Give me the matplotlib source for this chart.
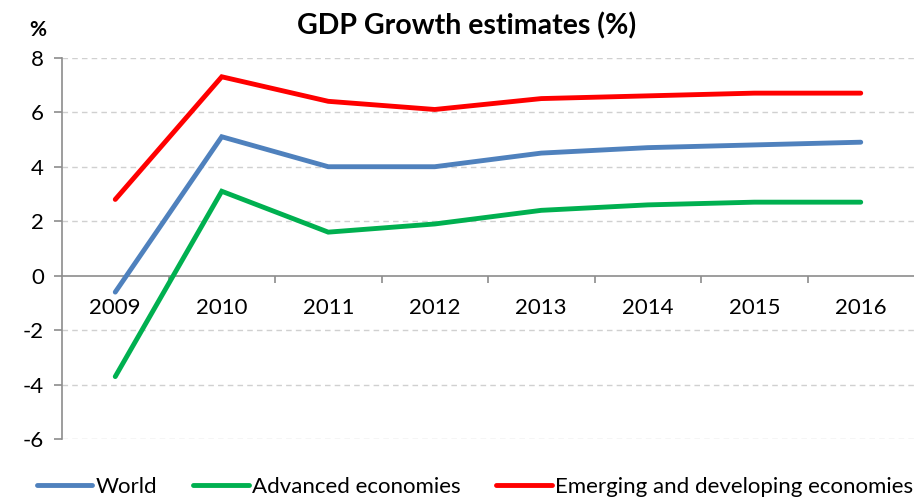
import numpy as np
import matplotlib.pyplot as plt
from matplotlib.ticker import MultipleLocator, FixedLocator

plt.rcParams['font.family'] = ['Lato', 'DejaVu Sans']
plt.rcParams['axes.unicode_minus'] = False

years = ['2009', '2010', '2011', '2012', '2013', '2014', '2015', '2016']
world = [-0.6, 5.1, 4.0, 4.0, 4.5, 4.7, 4.8, 4.9]
advanced = [-3.7, 3.1, 1.6, 1.9, 2.4, 2.6, 2.7, 2.7]
emerging = [2.8, 7.3, 6.4, 6.1, 6.5, 6.6, 6.7, 6.7]

series = [
    ('World', world, '#4F81BD'),
    ('Advanced economies', advanced, '#00B050'),
    ('Emerging and developing economies', emerging, '#FF0000'),
]

fig = plt.figure(figsize=(9.14, 4.98), dpi=100)
ax = fig.add_axes([62 / 914, 1 - 439.3 / 498, 1 - 62 / 914, (439.3 - 57.7) / 498])

x = np.arange(len(years))
for name, vals, color in series:
    ax.plot(x, vals, color=color, lw=3.5, solid_capstyle='round',
            solid_joinstyle='miter', label=name, zorder=3)

ax.set_xlim(-0.5, len(years) - 0.5)
ax.set_ylim(-6, 8)
ax.yaxis.set_major_locator(MultipleLocator(2))

# dashed grid, solid axis line at zero
for yv in np.arange(-6, 9, 2):
    if yv != 0:
        ax.axhline(yv, color='#D0D0D0', lw=1.0, ls=(0, (4, 3)), zorder=1)

for side in ['top', 'right']:
    ax.spines[side].set_visible(False)
ax.spines['left'].set_color('#8C8C8C')
ax.spines['left'].set_linewidth(1.2)
ax.spines['bottom'].set_position(('data', 0))
ax.spines['bottom'].set_color('#8C8C8C')
ax.spines['bottom'].set_linewidth(1.2)

ax.set_xticks(x)
ax.set_xticklabels(years)
ax.xaxis.set_minor_locator(FixedLocator(np.arange(0.5, len(years) - 0.5, 1)))
ax.tick_params(axis='x', which='major', length=0, pad=16, labelsize=16)
ax.tick_params(axis='x', which='minor', length=5, color='#8C8C8C', width=1.2)
ax.tick_params(axis='y', which='major', length=6, color='#8C8C8C', width=1.2,
               labelsize=16, pad=7)

fig.text(467 / 914, 1 - 26 / 498, 'GDP Growth estimates (%)', ha='center',
         va='center', fontsize=20.5, fontweight='bold')
fig.text(38 / 914, 1 - 30 / 498, '%', ha='center', va='center',
         fontsize=15, fontweight='bold')

fig.legend(loc='center', bbox_to_anchor=(475 / 914, 1 - 487 / 498), ncol=3,
           frameon=False, fontsize=16, handlelength=2.5, handletextpad=0.15,
           columnspacing=1.6, borderaxespad=0)

fig.savefig('out.png', dpi=100)
